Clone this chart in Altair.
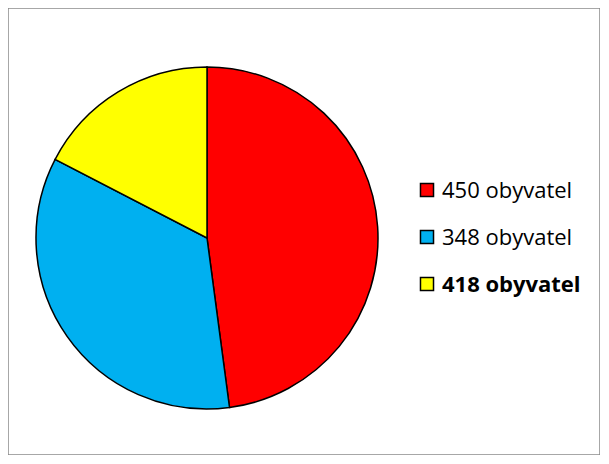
import altair as alt
import pandas as pd

categories = ["450 obyvatel", "348 obyvatel", "418 obyvatel"]
shares = [47.9, 34.7, 17.4]
colors = ["#FF0000", "#00B0F0", "#FFFF00"]
weights = ["normal", "normal", "bold"]

df = pd.DataFrame({
    "category": categories,
    "value": shares,
    "idx": list(range(len(categories))),
    "weight": weights,
})

color_scale = alt.Scale(domain=categories, range=colors)
y_scale = alt.Scale(type="point", domain=categories, range=[182, 276], padding=0)

base = alt.Chart(df)

pie = base.mark_arc(outerRadius=171, stroke="black", strokeWidth=1.5).encode(
    theta=alt.Theta("value:Q", stack=True),
    order=alt.Order("idx:Q"),
    color=alt.Color("category:N", scale=color_scale, legend=None),
    x=alt.value(199),
    y=alt.value(230),
)

squares = base.mark_square(size=170, stroke="black", strokeWidth=1.5, opacity=1).encode(
    x=alt.value(419),
    y=alt.Y("category:N", scale=y_scale, axis=None),
    color=alt.Color("category:N", scale=color_scale, legend=None),
)

txt_normal = base.transform_filter(alt.datum.weight == "normal").mark_text(
    align="left", baseline="middle", font="Open Sans", fontSize=22, color="black", dy=1
).encode(
    x=alt.value(434),
    y=alt.Y("category:N", scale=y_scale, axis=None),
    text="category:N",
)

txt_bold = base.transform_filter(alt.datum.weight == "bold").mark_text(
    align="left", baseline="middle", font="Open Sans", fontSize=22, fontWeight="bold", color="black", dy=1
).encode(
    x=alt.value(434),
    y=alt.Y("category:N", scale=y_scale, axis=None),
    text="category:N",
)

chart = alt.layer(pie, squares, txt_normal, txt_bold).properties(
    width=592,
    height=447,
    autosize=alt.AutoSizeParams(type="none"),
    padding=0,
).configure_view(stroke="#8a8a8a", strokeWidth=1.5)

chart.save("out.html", embed_options={"renderer": "svg", "actions": False})
